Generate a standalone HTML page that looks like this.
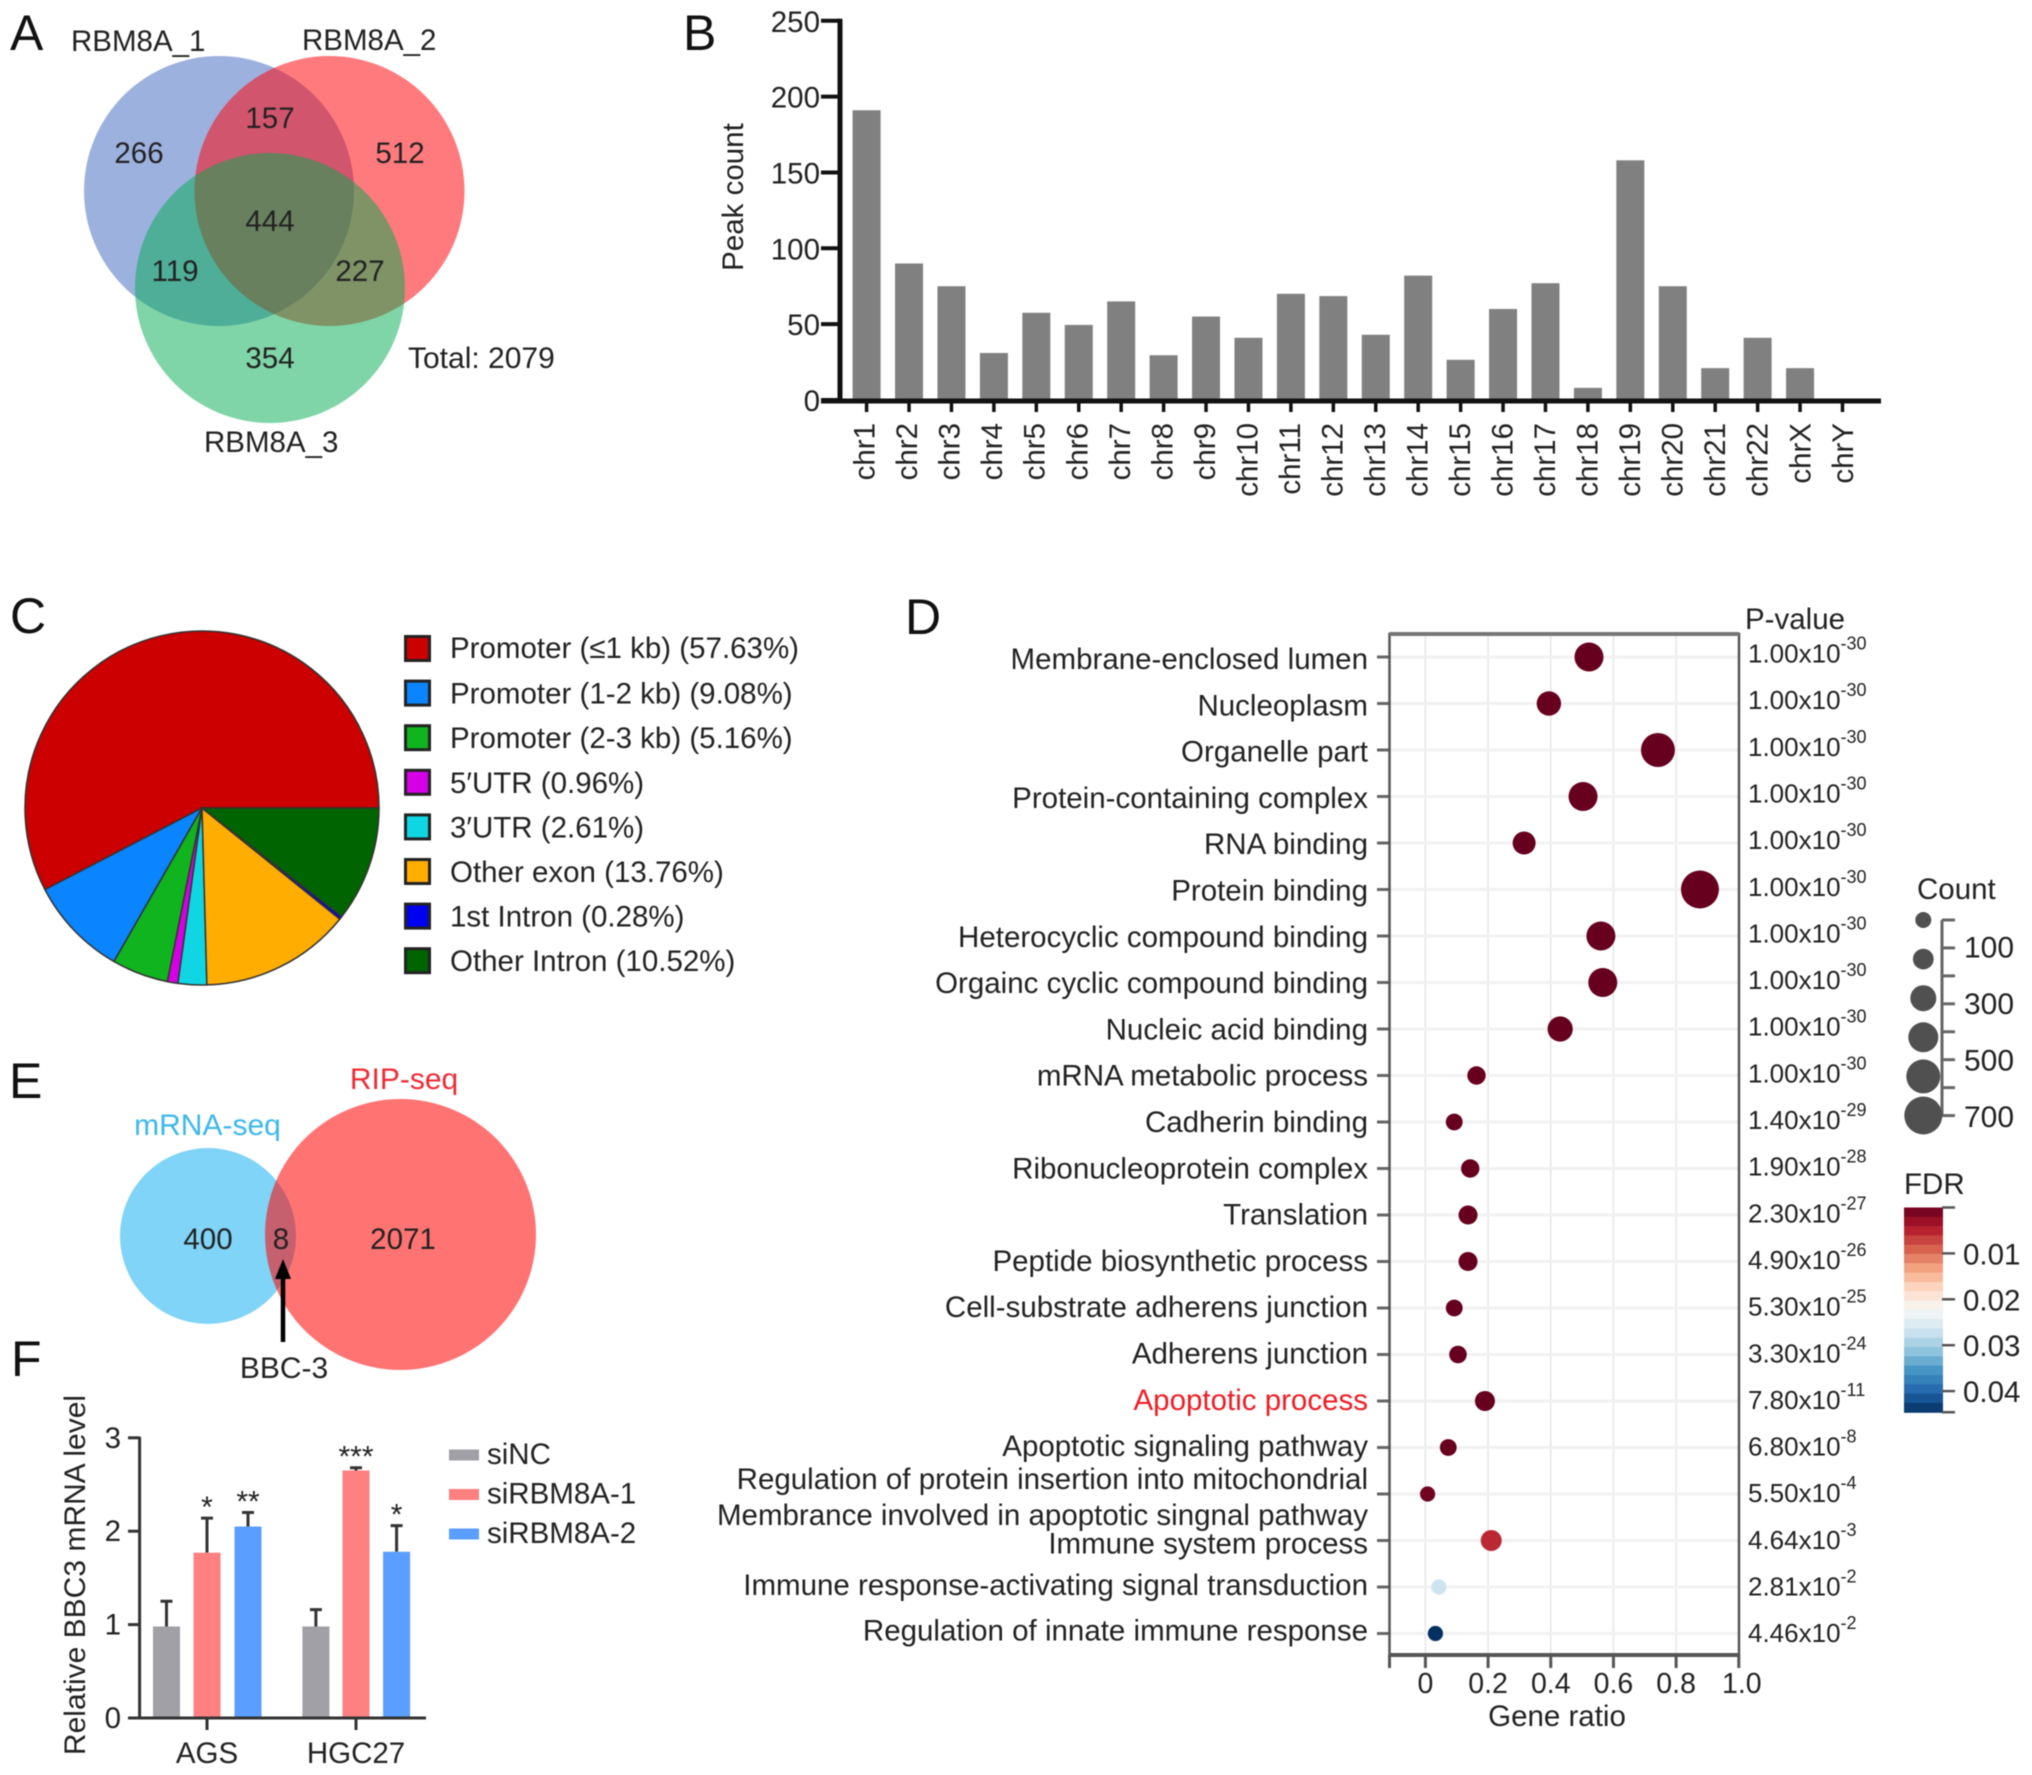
<!DOCTYPE html>
<html>
<head>
<meta charset="utf-8">
<title>RBM8A multi-panel figure</title>
<style>
html,body{margin:0;padding:0;background:#fff;}
svg{display:block;filter:blur(0.5px);}
text{font-family:"Liberation Sans",Arial,sans-serif;fill:#222;font-size:29.5px;}
.letter{font-size:50px;fill:#111;}
.n28{font-size:29.5px;text-anchor:middle;}
</style>
</head>
<body>
<svg id="fig" xmlns="http://www.w3.org/2000/svg" width="2032" height="1775" viewBox="0 0 2032 1775">
  <rect width="2032" height="1775" fill="#fff"/>

  <text class="letter" x="10" y="50">A</text>
  <text class="letter" x="683" y="50">B</text>
  <text class="letter" x="10" y="633">C</text>
  <text class="letter" x="905" y="634">D</text>
  <text class="letter" x="9" y="1098">E</text>
  <text class="letter" x="11" y="1376">F</text>

  <g>
    <circle cx="219" cy="191" r="135" fill="rgb(60,100,190)" fill-opacity=".5"/>
    <circle cx="329.5" cy="191" r="135" fill="rgb(255,4,10)" fill-opacity=".53"/>
    <circle cx="270" cy="288" r="135" fill="rgb(0,171,79)" fill-opacity=".5"/>
    <text x="71" y="51">RBM8A_1</text>
    <text x="302" y="50">RBM8A_2</text>
    <text x="204" y="452">RBM8A_3</text>
    <text x="408" y="368" style="font-size:30px">Total: 2079</text>
    <text class="n28" x="139" y="163">266</text>
    <text class="n28" x="270" y="128">157</text>
    <text class="n28" x="400" y="163">512</text>
    <text class="n28" x="270" y="231">444</text>
    <text class="n28" x="175" y="281">119</text>
    <text class="n28" x="360" y="281">227</text>
    <text class="n28" x="270" y="368">354</text>
  </g>

  <g id="panelB"></g>
  <g id="panelC"></g>
  <g id="panelD"></g>

  <g>
    <circle cx="208" cy="1236" r="88" fill="#80d4f7"/>
    <circle cx="400.5" cy="1234.5" r="135.5" fill="rgb(255,0,0)" fill-opacity=".55"/>
    <text x="207.5" y="1135" text-anchor="middle" style="fill:#3cb8ea;font-size:30px">mRNA-seq</text>
    <text x="404" y="1089" text-anchor="middle" style="fill:#ee2b36;font-size:30px">RIP-seq</text>
    <text x="208" y="1249" text-anchor="middle">400</text>
    <text x="281" y="1249" text-anchor="middle">8</text>
    <text x="403" y="1249" text-anchor="middle">2071</text>
    <line x1="283" y1="1342" x2="283" y2="1271" stroke="#000" stroke-width="4.5"/>
    <polygon points="283,1259 275,1279 291,1279" fill="#000"/>
    <text x="284" y="1378" text-anchor="middle" style="font-size:30px">BBC-3</text>
  </g>

  <g id="panelF"></g>
</svg>

<script>
/* ---------- Panel B data ---------- */
const chrNames = ["chr1","chr2","chr3","chr4","chr5","chr6","chr7","chr8","chr9","chr10","chr11","chr12","chr13","chr14","chr15","chr16","chr17","chr18","chr19","chr20","chr21","chr22","chrX","chrY"];
const chrPeakCounts = [191,90,75,31,57.5,49.5,65,29.5,55,41,70,68.5,43,82,26.5,60,77,8,158,75,21,41,21,0];
const chrTicks = [0,50,100,150,200,250];

/* ---------- Panel C data ---------- */
const pieLabels = ["Promoter (≤1 kb) (57.63%)","Promoter (1-2 kb) (9.08%)","Promoter (2-3 kb) (5.16%)","5′UTR (0.96%)","3′UTR (2.61%)","Other exon (13.76%)","1st Intron (0.28%)","Other Intron (10.52%)"];
const pieValues = [57.63,9.08,5.16,0.96,2.61,13.76,0.28,10.52];
const pieColors = ["#cc0000","#0a84ff","#0fb41e","#d500e6","#10d6e4","#ffad00","#0000f0","#006400"];

/* ---------- Panel D data ---------- */
const goTerms = ["Membrane-enclosed lumen","Nucleoplasm","Organelle part","Protein-containing complex","RNA binding","Protein binding","Heterocyclic compound binding","Orgainc cyclic compound binding","Nucleic acid binding","mRNA metabolic process","Cadherin binding","Ribonucleoprotein complex","Translation","Peptide biosynthetic process","Cell-substrate adherens junction","Adherens junction","Apoptotic process","Apoptotic signaling pathway","Regulation of protein insertion into mitochondrial|Membrance involved in apoptotic singnal pathway","Immune system process","Immune response-activating signal transduction","Regulation of innate immune response"];
const goRatios = [.522,.394,.742,.503,.315,.876,.56,.566,.43,.163,.092,.143,.136,.136,.092,.104,.19,.073,.007,.21,.043,.032];
const goCounts = [408,289,560,408,256,700,408,408,308,164,137,164,175,175,137,150,194,137,112,214,112,112];
const goFdr = [0,0,0,0,0,0,0,0,0,0,0,0,0,0,0,0,0,0,0.0005,0.0055,0.027,0.0446];
const pMantissa = ["1.00","1.00","1.00","1.00","1.00","1.00","1.00","1.00","1.00","1.00","1.40","1.90","2.30","4.90","5.30","3.30","7.80","6.80","5.50","4.64","2.81","4.46"];
const pExponent = ["-30","-30","-30","-30","-30","-30","-30","-30","-30","-30","-29","-28","-27","-26","-25","-24","-11","-8","-4","-3","-2","-2"];
const ratioTicks = [0,0.2,0.4,0.6,0.8,1.0];
const ratioTickLabels = ["0","0.2","0.4","0.6","0.8","1.0"];
const sizeLegendCounts = [124,208,328,436,560,700];
const sizeTicks = [0,100,200,300,400,500,600,700];
const sizeTickLabels = ["","100","","300","","500","","700"];
const fdrTicks = [0,0.01,0.02,0.03,0.04,0.0446];
const fdrTickLabels = ["","0.01","0.02","0.03","0.04",""];
const fdrStops = ["#67001f","#b2182b","#d6604d","#f4a582","#fddbc7","#f7f7f7","#d1e5f0","#92c5de","#4393c3","#2166ac","#053061"];

/* ---------- Panel F data ---------- */
const fGroups = ["AGS","HGC27"];
const fSeries = ["siNC","siRBM8A-1","siRBM8A-2"];
const fColors = ["#a0a0a6","#ff8080","#5a9eff"];
const fMeans = [[0.98,1.77,2.05],[0.98,2.65,1.78]];
const fErrors = [[.27,.37,.15],[.18,.03,.28]];
const fStars = [["","*","**"],["","***","*"]];
const fTicks = [0,1,2,3];

const NS = "http://www.w3.org/2000/svg";
function add(parent, tag, attrs, text){
  const el = document.createElementNS(NS, tag);
  for (const k in attrs) el.setAttribute(k, attrs[k]);
  if (text !== undefined) el.textContent = text;
  parent.appendChild(el);
  return el;
}

/* ========== Panel B ========== */
(function(){
  const g = document.getElementById("panelB");
  const yB = v => 400 - v * 1.517;
  const xB = i => 866.6 + i * 42.43;
  chrPeakCounts.forEach((v,i)=>{
    const b = add(g,"rect",{x:xB(i)-14,y:yB(v),width:28,height:400-yB(v),fill:"#808080"});
    
    
    const t = add(g,"line",{x1:xB(i),x2:xB(i),y1:400,y2:412,stroke:"#111","stroke-width":3.5});
    
    
    const l = add(g,"text",{x:xB(i)+8+i*0.1,y:423,transform:`rotate(-90 ${xB(i)+8+i*0.1} 423)`,"text-anchor":"end"},chrNames[i]);
    
    
  });
  const ax = add(g,"line",{x1:840,x2:840,y1:yB(250)-2,y2:402,stroke:"#111","stroke-width":5});
  
  
  const ax2 = add(g,"line",{x1:821,x2:1881,y1:401,y2:401,stroke:"#111","stroke-width":5});
  
  
  chrTicks.forEach(v=>{
    const t = add(g,"line",{x1:821,x2:840,y1:yB(v),y2:yB(v),stroke:"#111","stroke-width":4});
    
    
    const l = add(g,"text",{x:820,y:yB(v)+11,"text-anchor":"end"},v);
    
    
  });
  const title = add(g,"text",{x:743,y:197,transform:"rotate(-90 743 197)","text-anchor":"middle"},"Peak count");
  
  
})();

/* ========== Panel C ========== */
(function(){
  const g = document.getElementById("panelC");
  const cx = 202, cy = 808, r = 177;
  const total = pieValues.reduce((a,b)=>a+b,0);
  let cum = 0;
  pieValues.forEach((v,i)=>{
    const a0 = cum/total*2*Math.PI; cum += v;
    const a1 = cum/total*2*Math.PI;
    const large = (a1-a0) > Math.PI ? 1 : 0;
    const d = `M${cx} ${cy}L${cx+r*Math.cos(a0)} ${cy-r*Math.sin(a0)}A${r} ${r} 0 ${large} 0 ${cx+r*Math.cos(a1)} ${cy-r*Math.sin(a1)}Z`;
    const s = add(g,"path",{d:d,fill:pieColors[i],stroke:"#333","stroke-width":1.5});
    
    
    const y = 635 + i * 44.6;
    const sw = add(g,"rect",{x:405.5,y:y+1.5,width:24,height:24,fill:pieColors[i],stroke:"#222","stroke-width":3});
    
    
    const t = add(g,"text",{x:450,y:y+23+(i>0?1:0)},pieLabels[i]);
    
    
  });
})();

/* ========== Panel D ========== */
function fdrColor(v){
  const p = Math.min(1,Math.max(0,v/0.0446))*(fdrStops.length-1);
  const i = Math.min(fdrStops.length-2,Math.floor(p)), f = p-i;
  const h = (s,o)=>parseInt(s.substr(o,2),16);
  const m = o=>Math.round(h(fdrStops[i],o)*(1-f)+h(fdrStops[i+1],o)*f);
  return `rgb(${m(1)},${m(3)},${m(5)})`;
}
(function(){
  const g = document.getElementById("panelD");
  const xD = v => 1425.4 + 313.4 * v;
  const yD = i => 657 + 46.5 * i;
  const rD = c => 19 * Math.sqrt(c / 700);
  const L = 1389.5, R = 1739, T = 634, B = 1655;

  ratioTicks.forEach((v,i)=>{
    const gl = add(g,"line",{x1:xD(v),x2:xD(v),y1:T,y2:B,stroke:"#e6e6e6","stroke-width":1.5});
    
    
    const t = add(g,"line",{x1:xD(v),x2:xD(v),y1:B,y2:1668,stroke:"#555","stroke-width":3});
    
    
    const l = add(g,"text",{x:xD(v)+(v===1?3:0),y:1693,"text-anchor":"middle",style:"font-size:28.5px"},ratioTickLabels[i]);
    
    
  });
  const lt = add(g,"line",{x1:L,x2:L,y1:B,y2:1668,stroke:"#555","stroke-width":3});
  
  

  goTerms.forEach((name,i)=>{
    const y = yD(i);
    const gl = add(g,"line",{x1:L,x2:R,y1:y,y2:y,stroke:"#f1f1f1","stroke-width":3});
    
    
    const t = add(g,"line",{x1:1377,x2:L,y1:y,y2:y,stroke:"#666","stroke-width":3});
    
    
    const base = 669 + 46.3 * i;
    const parts = name.split("|");
    parts.forEach((line,k)=>{
      const yy = parts.length>1 ? (k===0 ? 1489 : 1525) : base + (i===19 ? 5 : 0) - (i===21 ? 1 : 0);
      const red = line === "Apoptotic process";
      const l = add(g,"text",{x:1368,y:yy,"text-anchor":"end",style:red?"fill:#f01c24":""},line);
      
      
    });
    const pb = 662.5 + 46.65 * i;
    const p = add(g,"text",{x:1748,y:pb,style:"font-size:26px"},pMantissa[i]+"x10");
    
    
    const sup = add(p,"tspan",{dy:-13,style:"font-size:18px"},pExponent[i]);
    
    
  });

  const fr = add(g,"rect",{x:L,y:T,width:R-L,height:B-T,fill:"none",stroke:"#555","stroke-width":2.5});
  
  
  const tl = add(g,"line",{x1:L,x2:R,y1:T,y2:T,stroke:"#777","stroke-width":4});
  
  
  const bl = add(g,"line",{x1:L,x2:R,y1:B,y2:B,stroke:"#555","stroke-width":4});
  
  

  goRatios.forEach((v,i)=>{
    const c = add(g,"circle",{cx:xD(v),cy:yD(i),r:rD(goCounts[i]),fill:fdrColor(goFdr[i])});
    
    
  });

  const pv = add(g,"text",{x:1745,y:629},"P-value");
  
  
  const gr = add(g,"text",{x:1557,y:1726,"text-anchor":"middle"},"Gene ratio");
  
  

  /* size legend */
  const ct = add(g,"text",{x:1917,y:899},"Count");
  
  
  const ySize = v => 920 + v * 0.2794;
  const sa = add(g,"line",{x1:1942,x2:1942,y1:ySize(0),y2:ySize(700),stroke:"#666","stroke-width":3});
  
  
  sizeTicks.forEach((v,i)=>{
    const t = add(g,"line",{x1:1942,x2:1955,y1:ySize(v),y2:ySize(v),stroke:"#666","stroke-width":3});
    
    
    const l = add(g,"text",{x:1964,y:ySize(v)+9.5+v*0.003,style:"font-size:30px"},sizeTickLabels[i]);
    
    
  });
  sizeLegendCounts.forEach((c,i)=>{
    const d = add(g,"circle",{cx:1923.3,cy:920+i*39.1,r:rD(c),fill:"#505050"});
    
    
  });

  /* fdr legend */
  const ft = add(g,"text",{x:1904,y:1194},"FDR");
  
  
  const yF = v => 1207.5 + 4590 * v;
  const bins = 22, maxF = 0.0446;
  for (let i=0;i<bins;i++){
    const a = i/bins*maxF, b = (i+1)/bins*maxF;
    const c = add(g,"rect",{x:1904,y:yF(a),width:39,height:yF(b)-yF(a)+0.6,fill:fdrColor((a+b)/2)});
    
    
  }
  fdrTicks.forEach((v,i)=>{
    const t = add(g,"line",{x1:1942,x2:1955,y1:yF(v),y2:yF(v),stroke:"#555","stroke-width":2.5});
    
    
    if (fdrTickLabels[i]) {
      const l = add(g,"text",{x:1963,y:yF(v)+11,style:"font-size:29.5px"},fdrTickLabels[i]);
      
      
    }
  });
})();

/* ========== Panel F ========== */
(function(){
  const g = document.getElementById("panelF");
  const yS = v => 1718 - 93.4 * v;
  const groupCenter = [207,356];
  const offsets = [-40.5,0,41];
  fMeans.forEach((arr,gi)=>{
    arr.forEach((v,si)=>{
      const cx = groupCenter[gi] + offsets[si] * (gi===0?1:0.99);
      const e = add(g,"path",{d:`M${cx} ${yS(v)}V${yS(v+fErrors[gi][si])}M${cx-6} ${yS(v+fErrors[gi][si])}H${cx+6}`,stroke:"#333","stroke-width":3,fill:"none"});
      
      
      const b = add(g,"rect",{x:cx-13.5,y:yS(v),width:27,height:1718-yS(v),fill:fColors[si]});
      
      
      if (fStars[gi][si]) {
        const s = add(g,"text",{x:cx,y:yS(v+fErrors[gi][si])-1,"text-anchor":"middle",style:"font-size:30px"},fStars[gi][si]);
        
        
      }
    });
    const t = add(g,"line",{x1:groupCenter[gi],x2:groupCenter[gi],y1:1718,y2:1730,stroke:"#333","stroke-width":3});
    
    
    const l = add(g,"text",{x:groupCenter[gi],y:1763,"text-anchor":"middle"},fGroups[gi]);
    
    
  });
  const ya = add(g,"line",{x1:139.6,x2:139.6,y1:yS(3)-1,y2:1719,stroke:"#333","stroke-width":3});
  
  
  const xa = add(g,"line",{x1:128,x2:426,y1:1718,y2:1718,stroke:"#333","stroke-width":3});
  
  
  fTicks.forEach(v=>{
    const t = add(g,"line",{x1:128,x2:139.6,y1:yS(v),y2:yS(v),stroke:"#333","stroke-width":3});
    
    
    const l = add(g,"text",{x:121,y:yS(v)+10,"text-anchor":"end"},v);
    
    
  });
  const ti = add(g,"text",{x:85,y:1575,transform:"rotate(-90 85 1575)","text-anchor":"middle",style:"font-size:30px"},"Relative BBC3 mRNA level");
  
  
  fSeries.forEach((name,i)=>{
    const cy = 1455 + i * 39.5;
    const s = add(g,"rect",{x:449,y:cy-5.5,width:30,height:11,fill:fColors[i]});
    
    
    const t = add(g,"text",{x:487,y:cy+9},name);
    
    
  });
})();
</script>
</body>
</html>
